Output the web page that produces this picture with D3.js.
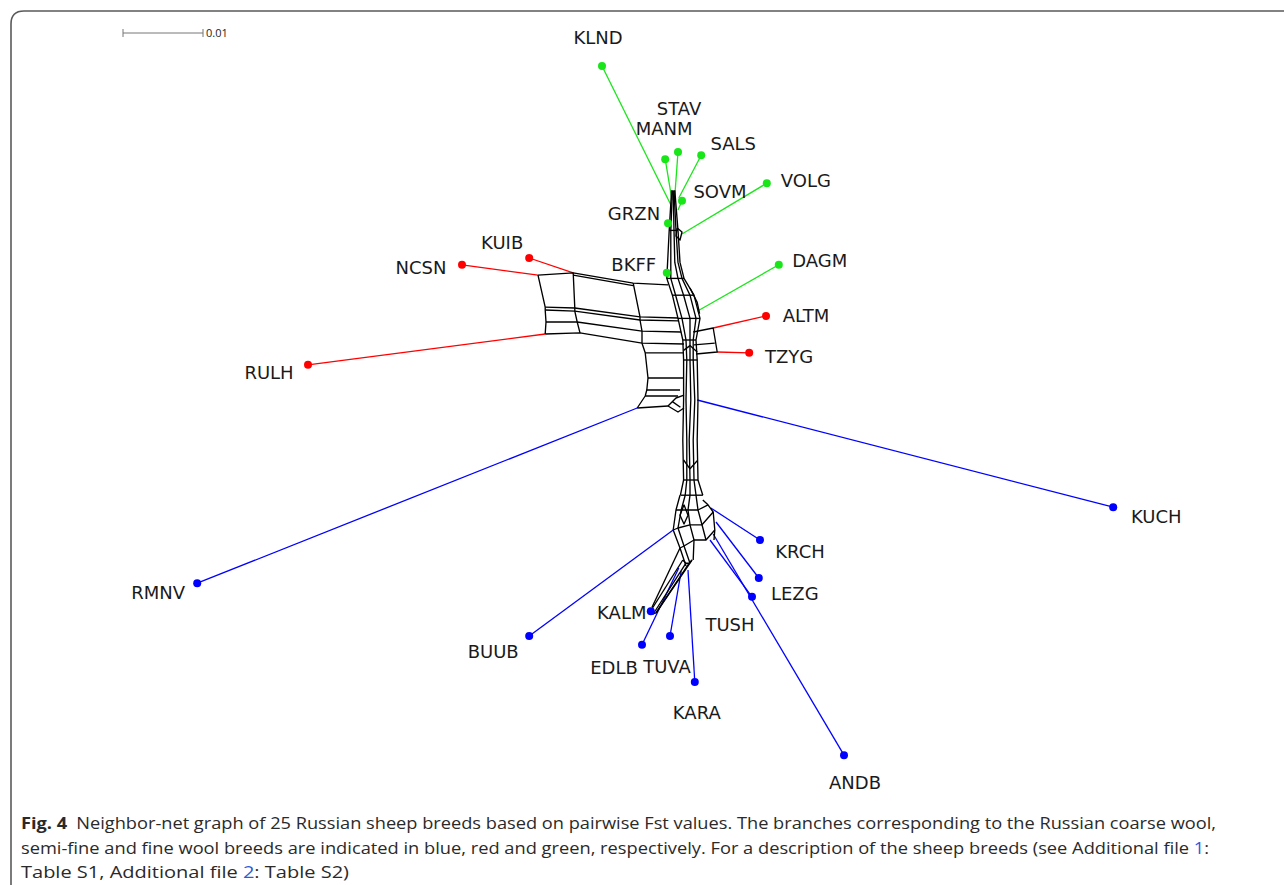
<!DOCTYPE html>
<html lang="en">
<head>
<meta charset="UTF-8">
<title>Neighbor-net</title>
<script src="https://d3js.org/d3.v7.min.js"></script>
</head>
<style>
  body { margin: 0; background: #fff; }
  .net { fill: none; stroke: #000; stroke-width: 1.35; stroke-linejoin: round; }
  .branch { fill: none; stroke-width: 1.3; }
  .taxon { font: 18px "DejaVu Sans", sans-serif; fill: #1a1a1a; }
  .caption { font: 16px "Open Sans", sans-serif; fill: #2a2a2a; }
  .link { fill: #2f5bd8; }
</style>
<body>
<script>
// distances in units of 0.001 Fst, origin at the trunk centre
var taxa   = ["KLND","STAV","MANM","SALS","SOVM","VOLG","GRZN","BKFF","DAGM","ALTM","TZYG","KUIB","NCSN","RULH",
              "KUCH","RMNV","KRCH","LEZG","TUSH","ANDB","KARA","TUVA","EDLB","KALM","BUUB"];
var groups = ["fine","fine","fine","fine","fine","fine","fine","fine","fine","semi","semi","semi","semi","semi",
              "coarse","coarse","coarse","coarse","coarse","coarse","coarse","coarse","coarse","coarse","coarse"];
var leafX  = [-11.0,-1.5,-3.1,1.4,-1.0,9.6,-2.75,-2.9,11.1,9.5,7.4,-20.1,-28.5,-47.75,
              52.9,-61.6,8.75,8.6,7.75,19.25,0.6,-2.5,-6.0,-4.9,-20.1];
var leafY  = [-41.75,-31.0,-30.1,-30.6,-24.9,-27.1,-22.1,-15.9,-16.9,-10.5,-5.9,-17.75,-16.9,-4.4,
              13.4,22.9,17.5,22.25,24.6,44.4,35.25,29.5,30.6,26.4,29.5];
var nodeX  = [-2.4,-1.9,-2.25,-1.4,-1.5,-1.0,-2.4,-2.6,0.9,2.9,3.4,-14.6,-19.0,-18.1,
              0.9,-6.6,2.6,3.25,2.5,2.9,-0.25,-1.1,-1.4,-4.6,-2.1];
var nodeY  = [-24.4,-25.5,-25.0,-25.25,-23.75,-20.75,-22.25,-15.4,-11.1,-9.0,-6.0,-15.9,-15.6,-8.25,
              0.0,1.0,13.5,15.25,17.5,16.75,21.25,21.4,21.0,26.5,16.25];

// trunk strands sampled at shared levels
var trunkY = [-26.2,-21.2,-17.2,-15.2,-13.1,-10.2,-7.5,-5,0,5,10,11.9];
var trunkX = [
  [-2.3,-2.6,-2.8,-2.9,-2.2,-1.5,-0.9,-0.8,-0.8,-0.9,-0.8,-1.2],
  [-2.2,-2.4,-2.4,-2.4,-1.8,-1.0,-0.5,-0.4,-0.5,-0.4,-0.4,-0.6],
  [-2.1,-2.0,-1.9,-1.5,-0.8,0.0,0.0,0.0,0.1,-0.1,0.0,0.0],
  [-2.0,-1.75,-1.5,-1.0,0.0,0.75,0.4,0.4,0.6,0.4,0.5,0.75],
  [-1.9,-1.5,-1.25,-0.75,0.5,1.25,0.75,0.9,1.0,0.9,1.0,1.6]
];
var trunkRungs = [1,3,4,5,6,7,10,11];

// left ladder (semi-fine split), rows of the grid
var gridRows = [
  [[-19.0,-15.6],[-14.6,-15.9],[-7.1,-14.6],[-2.75,-14.4]],
  [[-14.6,-15.6],[-7.1,-14.3]],
  [[-18.1,-11.6],[-14.4,-11.5],[-6.25,-10.4],[-1.5,-10.25]],
  [[-18.1,-11.25],[-14.4,-11.1],[-6.25,-10.0],[-1.4,-9.9]],
  [[-18.0,-9.75],[-14.1,-9.75],[-6.0,-8.6],[-1.1,-8.5]],
  [[-18.1,-8.25],[-13.75,-8.4],[-6.0,-7.1],[-0.75,-7.0]]
];
var gridCols = [0, 2, 3, 4, 5];
var lowerRows = [
  [[-5.6,-5.9],[-0.75,-5.9]],
  [[-5.25,-2.75],[-0.75,-2.75]],
  [[-5.4,-1.25],[-1.25,-1.25]],
  [[-5.6,-0.5],[-1.5,-0.5]],
  [[-6.6,1.0],[-2.75,0.75]]
];

// lower fan strands
var fan = [
  [[-1.25,11.9],[-1.75,13.75],[-2.1,16.25],[-1.25,18.5],[-0.5,20.75]],
  [[-0.6,11.9],[-1.1,13.75],[-1.5,16.0],[-0.75,18.25],[0.0,20.4]],
  [[0.0,11.9],[-0.25,13.75],[0.0,15.6],[0.5,17.5],[0.4,20.0]],
  [[0.75,11.9],[1.0,13.75],[1.5,15.6],[2.0,17.5]],
  [[1.6,12.5],[2.25,13.1],[2.9,14.0],[3.1,16.25],[3.0,17.5]]
];
var kalmBand = [
  [[-0.9,20.0],[-5.0,26.5]],
  [[-0.5,20.4],[-4.6,26.75]],
  [[-0.1,20.4],[-4.25,26.6]],
  [[0.25,20.0],[-4.0,26.25]],
  [[-1.25,18.5],[-4.75,25.9]]
];
var extraEdges = [
  [[-1.6,-21.5],[-1.0,-21.0],[-1.25,-20.0],[-1.75,-20.5],[-1.6,-21.5]],
  [[0.4,-8.5],[2.9,-9.0],[3.4,-6.0],[0.75,-5.75]],
  [[0.5,-6.9],[3.1,-7.1]],
  [[-2.75,0.75],[-1.75,-0.25],[-0.75,-0.6]],
  [[-2.75,0.75],[-1.5,1.5],[-0.75,1.0]],
  [[-2.2,0.2],[-1.2,0.9]],
  [[-0.75,13.1],[-0.25,14.4],[-0.75,15.5],[-1.25,14.4],[-0.75,13.1]],
  [[0.0,-14.0],[0.9,-12.2],[1.2,-10.8]],
  [[-0.8,7.5],[0.0,8.6],[0.9,7.6]],
  [[-0.8,-6.2],[0.0,-6.8],[0.9,-6.0]]
];

var scaleBarValue = 0.01;
var groupColor = { fine: "#19e619", semi: "#ff0000", coarse: "#0000ff" };

var W = 1284, H = 885;
var xs = d3.scaleLinear().domain([0, 10]).range([690, 770]);
var ys = d3.scaleLinear().domain([0, 10]).range([400, 480]);

var svg = d3.select("body").append("svg")
  .attr("width", W).attr("height", H);

// figure frame
svg.append("path")
  .attr("d", "M11," + H + " L11,24 Q11,11 24,11 L" + W + ",11")
  .attr("fill", "none").attr("stroke", "#5a5a5a").attr("stroke-width", 1.6);

// scale bar
var sbLen = xs(scaleBarValue * 1000) - xs(0);
var sb = svg.append("g").attr("transform", "translate(123,33)");
sb.append("line").attr("x1", 0).attr("x2", sbLen).attr("y1", 0).attr("y2", 0)
  .attr("stroke", "#777").attr("stroke-width", 1);
sb.selectAll(".tick").data([0, sbLen]).enter().append("line")
  .attr("x1", function(d) { return d; }).attr("x2", function(d) { return d; })
  .attr("y1", -4).attr("y2", 4).attr("stroke", "#777");
sb.append("text").attr("x", sbLen + 3).attr("y", 4)
  .style("font", "11px 'Open Sans', sans-serif").attr("fill", "#222").text(scaleBarValue);

var line = d3.line().x(function(d) { return xs(d[0]); }).y(function(d) { return ys(d[1]); });

// collect network edges
var edges = [];
trunkX.forEach(function(xsArr) {
  edges.push(xsArr.map(function(u, i) { return [u, trunkY[i]]; }));
});
trunkRungs.forEach(function(i) {
  edges.push(trunkX.map(function(xsArr) { return [xsArr[i], trunkY[i]]; }));
});
gridRows.forEach(function(r) { edges.push(r); });
for (var c = 0; c < 3; c++) {
  edges.push(gridCols.map(function(r) { return gridRows[r][c]; }));
}
lowerRows.forEach(function(r) { edges.push(r); });
edges.push([gridRows[5][2]].concat(lowerRows.map(function(r) { return r[0]; })));
fan.forEach(function(f) { edges.push(f); });
[1, 2, 3].forEach(function(i) {
  edges.push(fan.filter(function(f) { return f[i]; }).map(function(f) { return f[i]; }));
});
kalmBand.forEach(function(k) { edges.push(k); });
edges.push(kalmBand.slice(0, 4).map(function(k) { return k[1]; }));
edges.push(kalmBand.slice(0, 4).map(function(k) { return k[0]; }));
extraEdges.forEach(function(e) { edges.push(e); });

// coloured branches
svg.append("g").selectAll("line").data(taxa).enter().append("line")
  .attr("class", "branch")
  .attr("x1", function(d, i) { return xs(nodeX[i]); })
  .attr("y1", function(d, i) { return ys(nodeY[i]); })
  .attr("x2", function(d, i) { return xs(leafX[i]); })
  .attr("y2", function(d, i) { return ys(leafY[i]); })
  .attr("stroke", function(d, i) { return groupColor[groups[i]]; });

svg.append("g").selectAll("path").data(edges).enter().append("path")
  .attr("class", "net").attr("d", line);

svg.append("g").selectAll("circle").data(taxa).enter().append("circle")
  .attr("cx", function(d, i) { return xs(leafX[i]); })
  .attr("cy", function(d, i) { return ys(leafY[i]); })
  .attr("r", 4)
  .attr("fill", function(d, i) { return groupColor[groups[i]]; });

// label placement relative to each leaf, in pixels
var labelOffset = {
  KLND:[-4,-29], STAV:[1,-44], MANM:[-1,-31], SALS:[32,-12], SOVM:[38,-9], VOLG:[39,-3],
  GRZN:[-34,-10], BKFF:[-33,-8], DAGM:[41,-4], ALTM:[40,-1], TZYG:[40,4], KUIB:[-27,-16],
  NCSN:[-41,3], RULH:[-39,8], KUCH:[43,9], RMNV:[-39,9], KRCH:[40,11], LEZG:[36,15],
  TUSH:[-22,28], ANDB:[11,27], KARA:[2,30], TUVA:[-3,30], EDLB:[-28,23], KALM:[-29,1], BUUB:[-36,15]
};
svg.append("g").selectAll("text").data(taxa).enter().append("text")
  .attr("class", "taxon")
  .attr("x", function(d, i) { return xs(leafX[i]) + labelOffset[d][0]; })
  .attr("y", function(d, i) { return ys(leafY[i]) + labelOffset[d][1]; })
  .attr("text-anchor", "middle")
  .attr("dominant-baseline", "central")
  .text(function(d) { return d; });

// caption
var cap = svg.append("g").attr("class", "caption");
var l1 = cap.append("text").attr("x", 21).attr("y", 829).attr("textLength", 1195).attr("lengthAdjust", "spacingAndGlyphs");
l1.append("tspan").style("font-weight", "bold").text("Fig. 4");
l1.append("tspan").text("\u2002Neighbor-net graph of 25 Russian sheep breeds based on pairwise Fst values. The branches corresponding to the Russian coarse wool,");
var l2 = cap.append("text").attr("x", 21).attr("y", 854).attr("textLength", 1188).attr("lengthAdjust", "spacingAndGlyphs");
l2.append("tspan").text("semi-fine and fine wool breeds are indicated in blue, red and green, respectively. For a description of the sheep breeds (see Additional file ");
l2.append("tspan").attr("class", "link").text("1");
l2.append("tspan").text(":");
var l3 = cap.append("text").attr("x", 21).attr("y", 878).attr("textLength", 328).attr("lengthAdjust", "spacingAndGlyphs");
l3.append("tspan").text("Table S1, Additional file ");
l3.append("tspan").attr("class", "link").text("2");
l3.append("tspan").text(": Table S2)");
</script>
</body>
</html>
